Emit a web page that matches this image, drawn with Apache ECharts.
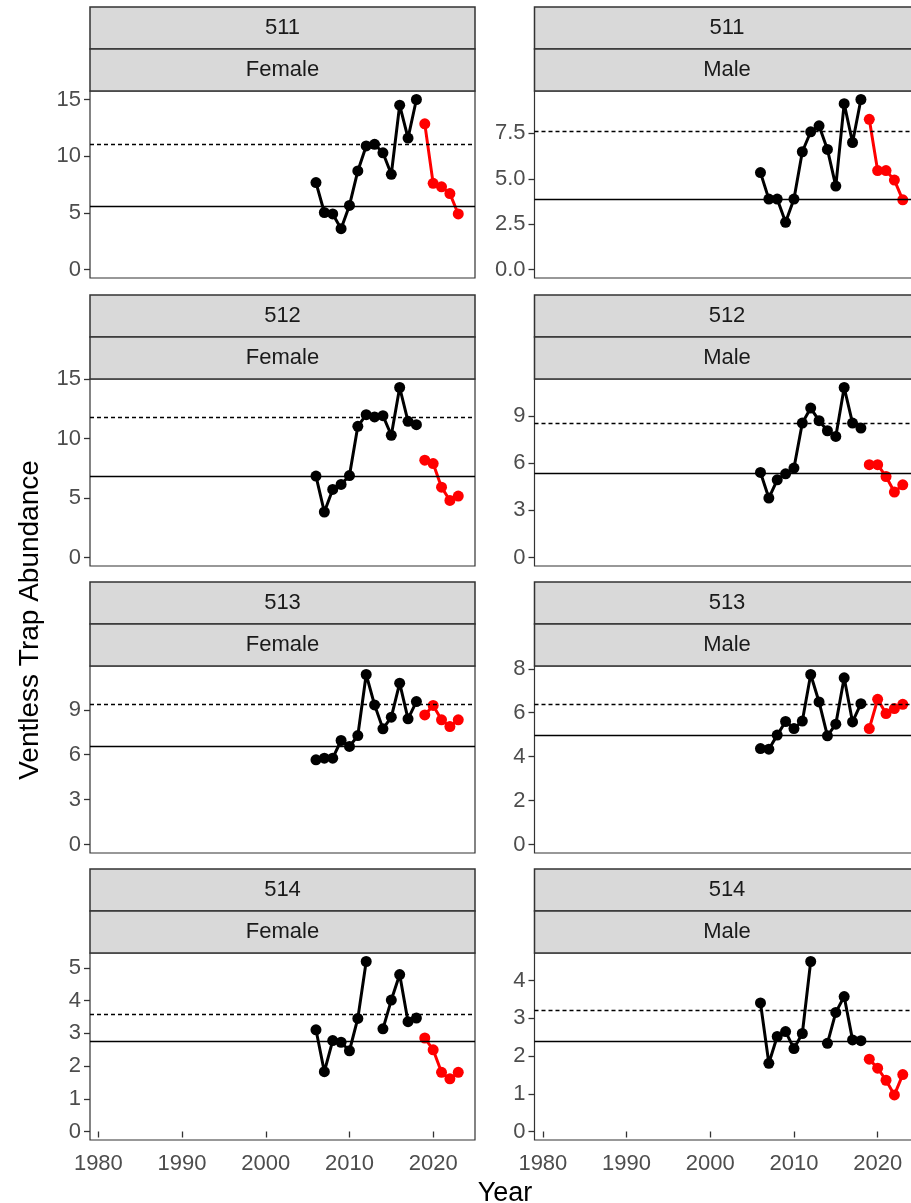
<!DOCTYPE html>
<html>
<head>
<meta charset="utf-8">
<script src="https://cdn.jsdelivr.net/npm/echarts@6/dist/echarts.min.js"></script>
<style>
  html, body { margin: 0; padding: 0; background: #fff; }
  #chart { width: 911px; height: 1203px; }
</style>
</head>
<body>
<div id="chart"></div>
<script>
// years
var histYears = [2006, 2007, 2008, 2009, 2010, 2011, 2012, 2013, 2014, 2015, 2016, 2017, 2018];
var recentYears = [2019, 2020, 2021, 2022, 2023];
var xTicks = [1980, 1990, 2000, 2010, 2020];

// 511
var f511Hist = [7.67, 5.03, 4.9, 3.6, 5.65, 8.7, 10.9, 11.05, 10.3, 8.4, 14.5, 11.6, 15.0];
var f511Recent = [12.85, 7.6, 7.3, 6.7, 4.9];
var f511Ref = [11.05, 5.6];          // dotted, solid
var m511Hist = [5.34, 3.88, 3.88, 2.6, 3.88, 6.49, 7.59, 7.92, 6.62, 4.6, 9.14, 7.0, 9.37];
var m511Recent = [8.28, 5.45, 5.45, 4.93, 3.84];
var m511Ref = [7.6, 3.88];

// 512
var f512Hist = [6.85, 3.83, 5.73, 6.15, 6.9, 11.04, 12.02, 11.83, 11.94, 10.29, 14.31, 11.46, 11.18];
var f512Recent = [8.19, 7.91, 5.92, 4.8, 5.17];
var f512Ref = [11.83, 6.85];
var m512Hist = [5.41, 3.78, 4.94, 5.32, 5.69, 8.55, 9.5, 8.7, 8.06, 7.7, 10.81, 8.55, 8.23];
var m512Recent = [5.9, 5.9, 5.15, 4.16, 4.62];
var m512Ref = [8.55, 5.37];

// 513
var f513Hist = [5.66, 5.77, 5.77, 6.95, 6.55, 7.28, 11.36, 9.33, 7.73, 8.51, 10.78, 8.4, 9.55];
var f513Recent = [8.66, 9.29, 8.33, 7.88, 8.33];
var f513Ref = [9.35, 6.57];
var m513Hist = [4.37, 4.34, 4.98, 5.6, 5.28, 5.62, 7.74, 6.49, 4.95, 5.48, 7.59, 5.58, 6.41];
var m513Recent = [5.28, 6.61, 5.96, 6.19, 6.38];
var m513Ref = [6.38, 4.98];

// 514 (no 2013 survey)
var f514Hist = [3.11, 1.83, 2.78, 2.73, 2.47, 3.46, 5.2, null, 3.14, 4.02, 4.8, 3.36, 3.47];
var f514Recent = [2.86, 2.5, 1.81, 1.61, 1.81];
var f514Ref = [3.6, 2.75];
var m514Hist = [3.41, 1.81, 2.52, 2.65, 2.2, 2.6, 4.51, null, 2.34, 3.16, 3.58, 2.43, 2.41];
var m514Recent = [1.92, 1.68, 1.36, 0.97, 1.51];
var m514Ref = [3.22, 2.39];

// y tick labels per panel
var ticks5to15 = [0, 5, 10, 15];
var ticksHalf = [0, 2.5, 5, 7.5];
var ticks3to9 = [0, 3, 6, 9];
var ticks2to8 = [0, 2, 4, 6, 8];
var ticks1to5 = [0, 1, 2, 3, 4, 5];
var ticks1to4 = [0, 1, 2, 3, 4];

var panels = [
  { area: '511', sex: 'Female', hist: f511Hist, recent: f511Recent, ref: f511Ref, ticks: ticks5to15, dec: 0 },
  { area: '511', sex: 'Male',   hist: m511Hist, recent: m511Recent, ref: m511Ref, ticks: ticksHalf,  dec: 1 },
  { area: '512', sex: 'Female', hist: f512Hist, recent: f512Recent, ref: f512Ref, ticks: ticks5to15, dec: 0 },
  { area: '512', sex: 'Male',   hist: m512Hist, recent: m512Recent, ref: m512Ref, ticks: ticks3to9,  dec: 0 },
  { area: '513', sex: 'Female', hist: f513Hist, recent: f513Recent, ref: f513Ref, ticks: ticks3to9,  dec: 0 },
  { area: '513', sex: 'Male',   hist: m513Hist, recent: m513Recent, ref: m513Ref, ticks: ticks2to8,  dec: 0 },
  { area: '514', sex: 'Female', hist: f514Hist, recent: f514Recent, ref: f514Ref, ticks: ticks1to5,  dec: 0 },
  { area: '514', sex: 'Male',   hist: m514Hist, recent: m514Recent, ref: m514Ref, ticks: ticks1to4,  dec: 0 }
];

var FONT = '"Liberation Sans", Arial, sans-serif';
var rowTop = [7, 295, 582, 869];
var colLeft = [90, 534.5];
var panelW = 385, stripH = 42, panelH = 187;

var grids = [], xAxes = [], yAxes = [], series = [], graphics = [];

panels.forEach(function (p, i) {
  var r = Math.floor(i / 2), c = i % 2;
  var bottomRow = (r === 3);
  var vals = p.hist.filter(function (v) { return v != null; }).concat(p.recent, p.ref);
  var top = Math.max.apply(null, vals);

  grids.push({
    left: colLeft[c], top: rowTop[r] + 2 * stripH, width: panelW, height: panelH,
    show: true, borderColor: '#333', borderWidth: 1.2, backgroundColor: '#fff',
    containLabel: false, outerBoundsMode: 'none'
  });

  xAxes.push({
    gridIndex: i, type: 'value', min: 1979, max: 2025,
    axisLine: { show: false }, splitLine: { show: false },
    axisTick: { show: bottomRow, length: 6, customValues: xTicks, lineStyle: { color: '#333', width: 1.3 } },
    axisLabel: {
      show: bottomRow, customValues: xTicks, margin: 13, color: '#4D4D4D', fontSize: 22, fontFamily: FONT,
      formatter: function (v) { return String(Math.round(v)); }
    }
  });

  yAxes.push({
    gridIndex: i, type: 'value', min: -0.05 * top, max: 1.05 * top,
    axisLine: { show: false }, splitLine: { show: false },
    axisTick: { show: true, length: 6, customValues: p.ticks, lineStyle: { color: '#333', width: 1.3 } },
    axisLabel: {
      customValues: p.ticks, margin: 9, color: '#4D4D4D', fontSize: 22, fontFamily: FONT,
      formatter: (function (d) { return function (v) { return Number(v).toFixed(d); }; })(p.dec)
    }
  });

  series.push({
    type: 'line', xAxisIndex: i, yAxisIndex: i, z: 3,
    data: histYears.map(function (y, k) { return [y, p.hist[k] == null ? '-' : p.hist[k]]; }),
    symbol: 'circle', symbolSize: 11, connectNulls: false,
    itemStyle: { color: '#000' }, lineStyle: { color: '#000', width: 3 },
    markLine: {
      silent: true, symbol: ['none', 'none'], label: { show: false }, animation: false,
      data: [
        { yAxis: p.ref[0], lineStyle: { color: '#000', width: 1.4, type: [4, 3] } },
        { yAxis: p.ref[1], lineStyle: { color: '#000', width: 1.4, type: 'solid' } }
      ]
    }
  });

  series.push({
    type: 'line', xAxisIndex: i, yAxisIndex: i, z: 3,
    data: recentYears.map(function (y, k) { return [y, p.recent[k]]; }),
    symbol: 'circle', symbolSize: 11,
    itemStyle: { color: '#FF0000' }, lineStyle: { color: '#FF0000', width: 3 }
  });

  // facet strips
  [p.area, p.sex].forEach(function (label, s) {
    var y0 = rowTop[r] + s * stripH;
    graphics.push({
      type: 'rect', z: 1,
      shape: { x: colLeft[c], y: y0, width: panelW, height: stripH },
      style: { fill: '#D9D9D9', stroke: '#333', lineWidth: 1.5 }
    });
    graphics.push({
      type: 'text', z: 2,
      x: colLeft[c] + panelW / 2, y: y0 + stripH / 2,
      style: {
        text: label, font: '22px ' + FONT, fill: '#1A1A1A',
        align: 'center', verticalAlign: 'middle',
        textAlign: 'center', textVerticalAlign: 'middle'
      }
    });
  });
});

// axis titles
graphics.push({
  type: 'text', x: 505, y: 1194,
  style: {
    text: 'Year', font: '27px ' + FONT, fill: '#000',
    align: 'center', verticalAlign: 'middle', textAlign: 'center', textVerticalAlign: 'middle'
  }
});
graphics.push({
  type: 'text', x: 30, y: 620, rotation: Math.PI / 2,
  style: {
    text: 'Ventless Trap Abundance', font: '28px ' + FONT, fill: '#000',
    align: 'center', verticalAlign: 'middle', textAlign: 'center', textVerticalAlign: 'middle'
  }
});

var chart = echarts.init(document.getElementById('chart'));
chart.setOption({
  backgroundColor: '#fff',
  animation: false,
  grid: grids,
  xAxis: xAxes,
  yAxis: yAxes,
  series: series,
  graphic: { elements: graphics }
});
</script>
</body>
</html>
